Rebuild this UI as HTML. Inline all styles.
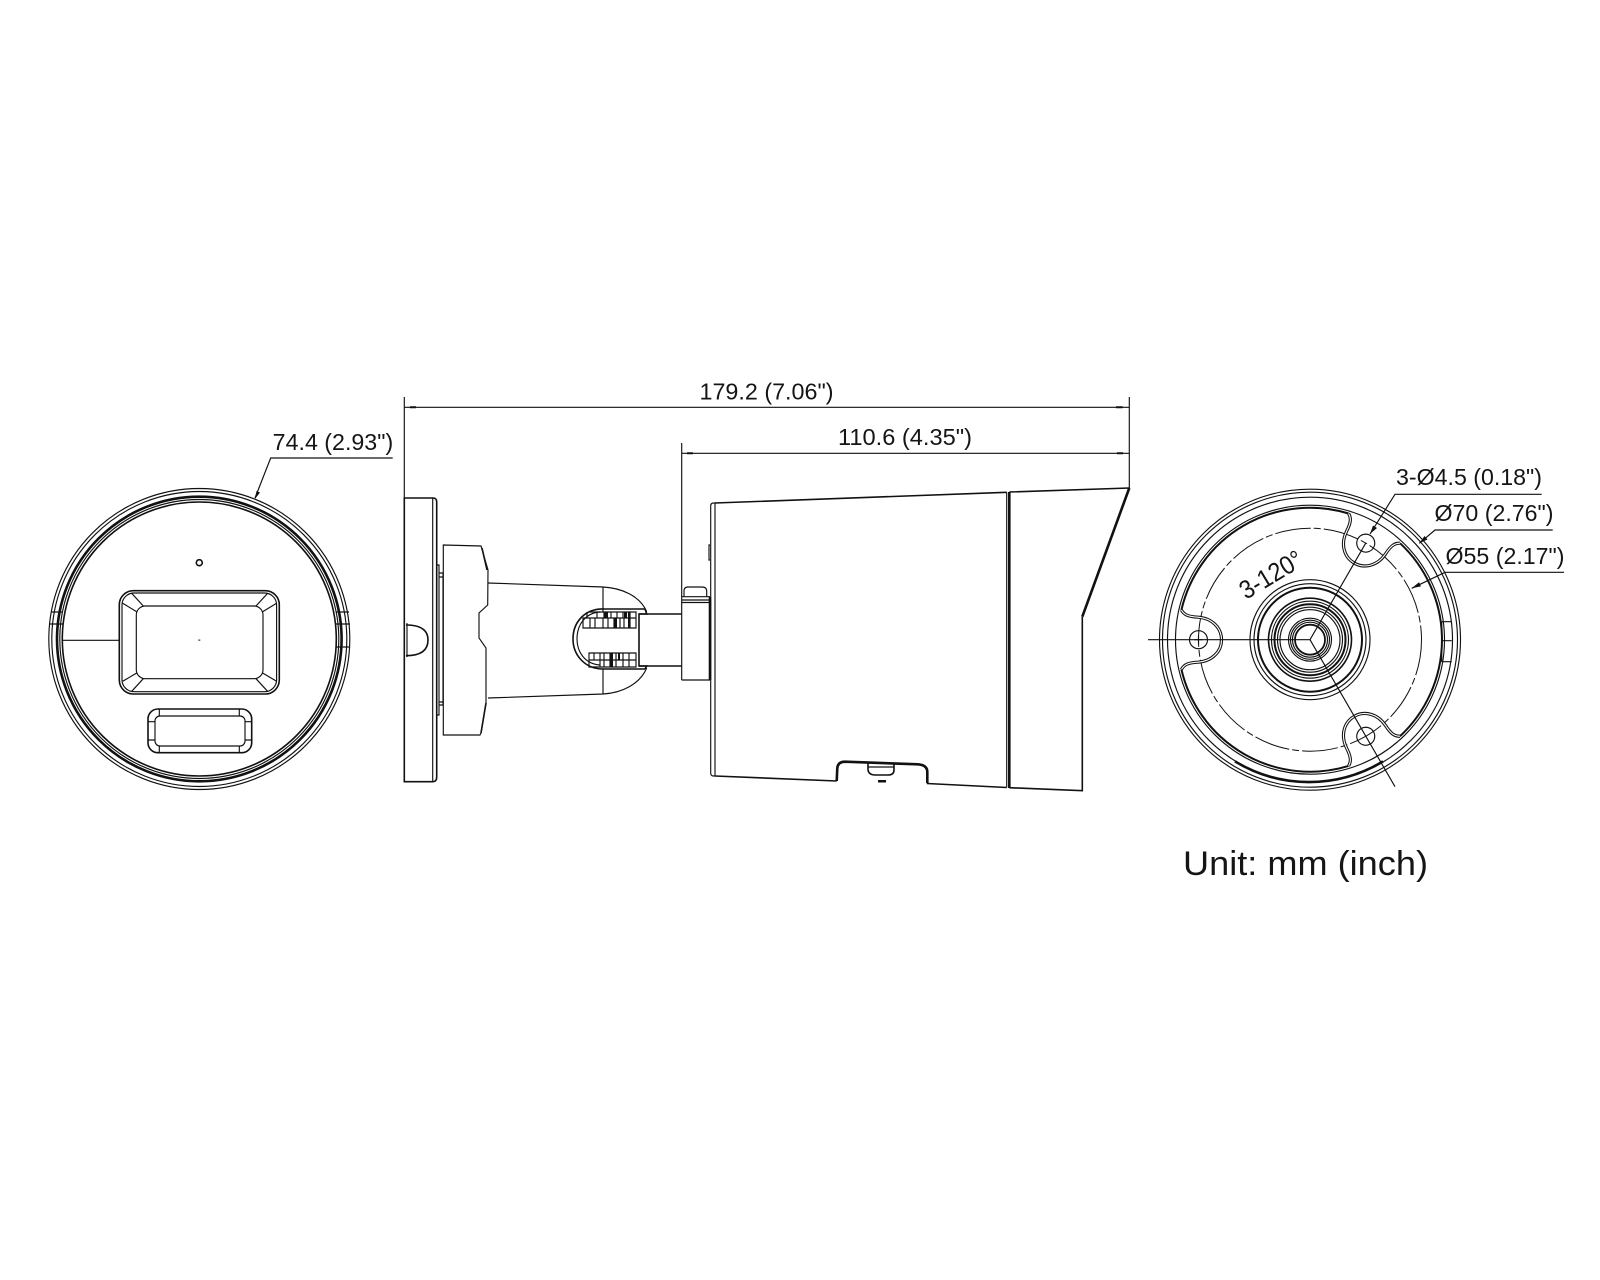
<!DOCTYPE html>
<html>
<head>
<meta charset="utf-8">
<style>
html,body{margin:0;padding:0;background:#fff;width:1600px;height:1280px;overflow:hidden}
svg{display:block}
text{font-family:"Liberation Sans",sans-serif;font-size:23px;fill:#151515}
.l{fill:none;stroke:#111;stroke-width:1.15}
.m{fill:none;stroke:#111;stroke-width:1.6}
.t{fill:none;stroke:#111;stroke-width:2.6}
.d{fill:#111;stroke:none}
</style>
</head>
<body>
<svg width="1600" height="1280" viewBox="0 0 1600 1280" xmlns="http://www.w3.org/2000/svg">
<rect width="1600" height="1280" fill="#fff"/>

<!-- LEFT FRONT VIEW -->
<g>
<circle class="l" cx="199.3" cy="639" r="150.5"/>
<circle class="l" cx="199.3" cy="639" r="147.5"/>
<circle class="t" cx="199.3" cy="639" r="142.3"/>
<circle class="l" cx="199.3" cy="639" r="139.5"/>
<circle class="m" cx="199.3" cy="639" r="137"/>
<path class="l" d="M51,612H63M50,624H63M336,612H349M336,624H350M336,647H349"/>
<circle class="m" cx="199.3" cy="562.7" r="3"/>
<path class="l" d="M62,640.3H119.3"/>
<path class="d" d="M198.3,639.6h2v1h-2z"/>
<rect class="m" x="119.3" y="590.7" width="160" height="103.3" rx="14"/>
<rect class="l" x="122" y="593" width="154.6" height="98.7" rx="12"/>
<rect class="l" x="136.3" y="606" width="126.7" height="72.7" rx="9"/>
<path class="l" d="M136.7,611.7L122.7,603.3M143.3,606L131.7,593.3M262.6,611.7L276.6,603.3M256,606L267.6,593.3M136.7,673L122.7,681.3M143.3,678.7L131.7,691.3M262.6,673L276.6,681.3M256,678.7L267.6,691.3"/>
<rect class="m" x="148" y="709" width="103.7" height="43.7" rx="10"/>
<rect class="l" x="155" y="716" width="90" height="30" rx="5"/>
<path class="l" d="M159.3,709V716M159.3,746V752.7M239.3,709V716M239.3,746V752.7M148,721.7H155M148,740H155M245,721.7H251.7M245,740H251.7"/>
<path class="l" d="M392.7,458H270.7L255,498"/>
<path class="d" d="M255,499L256.5,491L260,492.5Z"/>
<text x="272.7" y="450" textLength="120.5" lengthAdjust="spacingAndGlyphs">74.4 (2.93")</text>
</g>

<!-- DIMENSIONS TOP -->
<path class="l" d="M404.3,397V498M404.3,407.3H1129.3M1129.3,397V488M681.7,443V680M681.7,453.3H1129.3"/>
<path class="d" d="M410,406.3h6v2h-6zM1116,406.3h6.7v2h-6.7zM687,452.3h6v2h-6zM1117,452.3h6v2h-6z"/>
<text x="699.5" y="399.3" textLength="134" lengthAdjust="spacingAndGlyphs">179.2 (7.06")</text>
<text x="838" y="445" textLength="134" lengthAdjust="spacingAndGlyphs">110.6 (4.35")</text>

<!-- WALL PLATE AND BASE -->
<path class="m" d="M404.3,498H433Q436.7,498 436.7,502V777Q436.7,781.7 433,781.7H404.3Z"/>
<path class="l" d="M432.7,498V781.7"/>
<path class="m" d="M406,625Q428,625 428,640Q428,655.7 406,655.7"/>
<path class="l" d="M407,623V657"/>
<path class="l" d="M437,565H439V715H437M439,573H443V705H439M439,577H443M439,702H443"/>
<path class="l" d="M443.3,545L481,546L488,570L487.7,605L479,613V638L486,648V703L481,733L480,735L443.3,735Z"/>
<path class="m" d="M482,548L487,570M486,703L481,733"/>

<!-- ARM -->
<path class="l" d="M488,583L603,587C622,588 640,596 646.7,611.7M488,698L603,694C622,693 640,684 646.7,668M603,587V612M603,669V694"/>
<path class="m" d="M645,609H605C585,608 573,622 573,639C573,655 585,669 603,669H645"/>
<path class="l" d="M600,612C585,613 577,625 577,639C577,652 585,664 600,665"/>
<path class="m" d="M645,609L646.7,614H639V666H646.7L645,669"/>
<path class="l" d="M587,612V618H636M590,612H636V628H583V618H590M597,612V618M604,612V618M611,612V618M617,612V618M623,612V618M630,612V618M590,618V628M595,618V628M603,618V628M608,618V628M614,618V628M620,618V628M624,618V628M630,618V628"/>
<path class="l" d="M589,653H636V667H589ZM589,660H636M594,653V660M600,653V667M604,653V667M610,653V667M616,653V667M623,653V667M629,653V667"/>
<path class="d" d="M604,612h4v6h-4zM614,618h3v10h-3zM624,612h3v6h-3zM610,653h3v14h-3zM618,653h2v7h-2zM628,612h2v16h-2z"/>
<path class="m" d="M639,614H681.7M639,666H681.7"/>

<!-- MOUNT -->
<path class="l" d="M681.7,596.7H710M681.7,600H710M681.7,602.5H710M681.7,680H710"/>
<path class="l" d="M684,596.7V591Q684,587 688,587H702Q706.7,587 706.7,591V596.7"/>
<path class="t" d="M710,597V680"/>

<!-- BODY -->
<path class="m" d="M1006.7,492.3L715,503M1009.3,492L1129.3,488"/>
<path class="t" d="M1129.3,488L1082.3,616.7"/>
<path class="m" d="M1082.3,616.7V790.7L1009.3,787.7M1006.7,787.5L927,783.5M836.7,781L715,776"/>
<path class="l" d="M715,503V776M715,503H713.5Q710.7,503 710.7,506V773Q710.7,776 713.5,776H715"/>
<path class="l" d="M710,545H709V560H710"/>
<path class="l" d="M1006.7,492.3V787.5"/>
<path class="t" d="M1009.3,492V788"/>
<path class="t" d="M836.7,781L837.3,768Q838,761.7 845,761.7L918,764.3Q927.3,765 927.3,772V783.3"/>
<path class="m" d="M868,763V770Q869,775 875,775H888Q894,775 894,770V764"/>
<path class="l" d="M868,767H894"/>
<path class="d" d="M878,780h8v2.5h-8z"/>

<!-- RIGHT MOUNT VIEW -->
<g transform="translate(1310,639.7)">
<circle class="l" r="150.5"/>
<circle class="l" r="147.5"/>
<circle class="l" r="142.5"/>
<circle class="l" r="134.5"/>
<circle fill="none" stroke="#111" stroke-width="1" r="111.5" stroke-dasharray="36 3 7 3"/>
<path class="t" d="M73,121.7A143,143 0 0 1 -75,121.7"/>
<g id="sec">
<path class="t" style="stroke-width:2" d="M-128.6,-29.7A132,132 0 0 1 38.6,-126.2"/>
<path d="M-128.6,-29.7C-126,-25 -122,-23 -112,-22.5C-98,-21.5 -88.5,-12 -88.5,0C-88.5,12 -98,21.5 -112,22.5C-122,23 -126,25 -128.6,29.7" fill="none" stroke="#111" stroke-width="3.2"/>
<path d="M-128.6,-29.7C-126,-25 -122,-23 -112,-22.5C-98,-21.5 -88.5,-12 -88.5,0C-88.5,12 -98,21.5 -112,22.5C-122,23 -126,25 -128.6,29.7" fill="none" stroke="#fff" stroke-width="1.1"/>
<circle class="l" cx="-111.5" r="9"/>
</g>
<use href="#sec" transform="rotate(120)"/>
<use href="#sec" transform="rotate(240)"/>
<circle class="l" r="60"/>
<circle class="l" r="56"/>
<circle fill="none" stroke="#111" stroke-width="2" r="52"/>
<circle class="m" r="41.5"/>
<circle class="l" r="38.5"/>
<circle fill="none" stroke="#111" stroke-width="2" r="35.5"/>
<circle class="l" r="32.5"/>
<circle class="l" r="30"/>
<circle class="l" r="21.5"/>
<circle class="l" r="19.5"/>
<circle class="l" r="17.5"/>
<circle fill="none" stroke="#111" stroke-width="1.8" r="15"/>
<path class="l" d="M-162,0H0L55.7,-96.5M0,0L85,147"/>
<path class="l" d="M-115.5,0H-107.5M-111.5,-4V4"/>
</g>
<path d="M1441.7,621.7H1451.7M1441.7,640.7H1451.7M1441.7,661.7H1451.7M1441.7,621.7V661.7" class="l"/>

<!-- LEADERS -->
<path class="l" d="M1541.7,494.3H1395L1370,534"/>
<path class="d" d="M1370,534L1373,525.5L1377,528Z"/>
<path class="l" d="M1552.7,530H1435L1419.3,543.3"/>
<path class="d" d="M1419.3,543.3L1424.5,536L1427.5,539.5Z"/>
<path class="l" d="M1564,572.3H1445L1411.7,588.3"/>
<path class="d" d="M1411.7,588.3L1419,582.3L1421,586.4Z"/>
<text x="1396" y="485" textLength="146" lengthAdjust="spacingAndGlyphs">3-Ø4.5 (0.18")</text>
<text x="1434.5" y="521" textLength="119" lengthAdjust="spacingAndGlyphs">Ø70 (2.76")</text>
<text x="1445.5" y="564" textLength="119" lengthAdjust="spacingAndGlyphs">Ø55 (2.17")</text>
<text transform="translate(1246,600) rotate(-31)" x="0" y="0" style="font-size:26px" textLength="69" lengthAdjust="spacingAndGlyphs">3-120°</text>
<text x="1183" y="875" style="font-size:34px" textLength="245" lengthAdjust="spacingAndGlyphs">Unit: mm (inch)</text>
</svg>
</body>
</html>
